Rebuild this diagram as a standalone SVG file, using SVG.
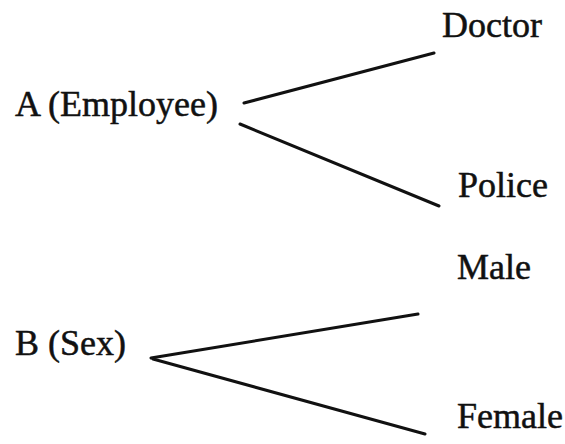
<svg xmlns="http://www.w3.org/2000/svg" width="565" height="444" viewBox="0 0 565 444">
<style>
text{font-family:'Liberation Serif','DejaVu Serif',serif;font-size:36px;fill:#111;stroke:#111;stroke-width:0.5}
.c line{stroke:#111;stroke-width:3;stroke-linecap:round}
</style>
<rect width="565" height="444" fill="#fff"/>
<g id="nodeA"><text x="15" y="116">A (Employee)</text></g>
<g id="doctor"><text x="442" y="37">Doctor</text></g>
<g id="police"><text x="458" y="197">Police</text></g>
<g id="nodeB"><text x="15" y="355">B (Sex)</text></g>
<g id="male"><text x="457" y="279">Male</text></g>
<g id="female"><text x="457" y="428">Female</text></g>
<g class="c" id="connectors">
<line x1="244" y1="103" x2="434" y2="53"/>
<line x1="240" y1="124" x2="439" y2="206"/>
<line x1="151" y1="358" x2="418" y2="314"/>
<line x1="153" y1="359" x2="425" y2="434"/>
</g>
</svg>
